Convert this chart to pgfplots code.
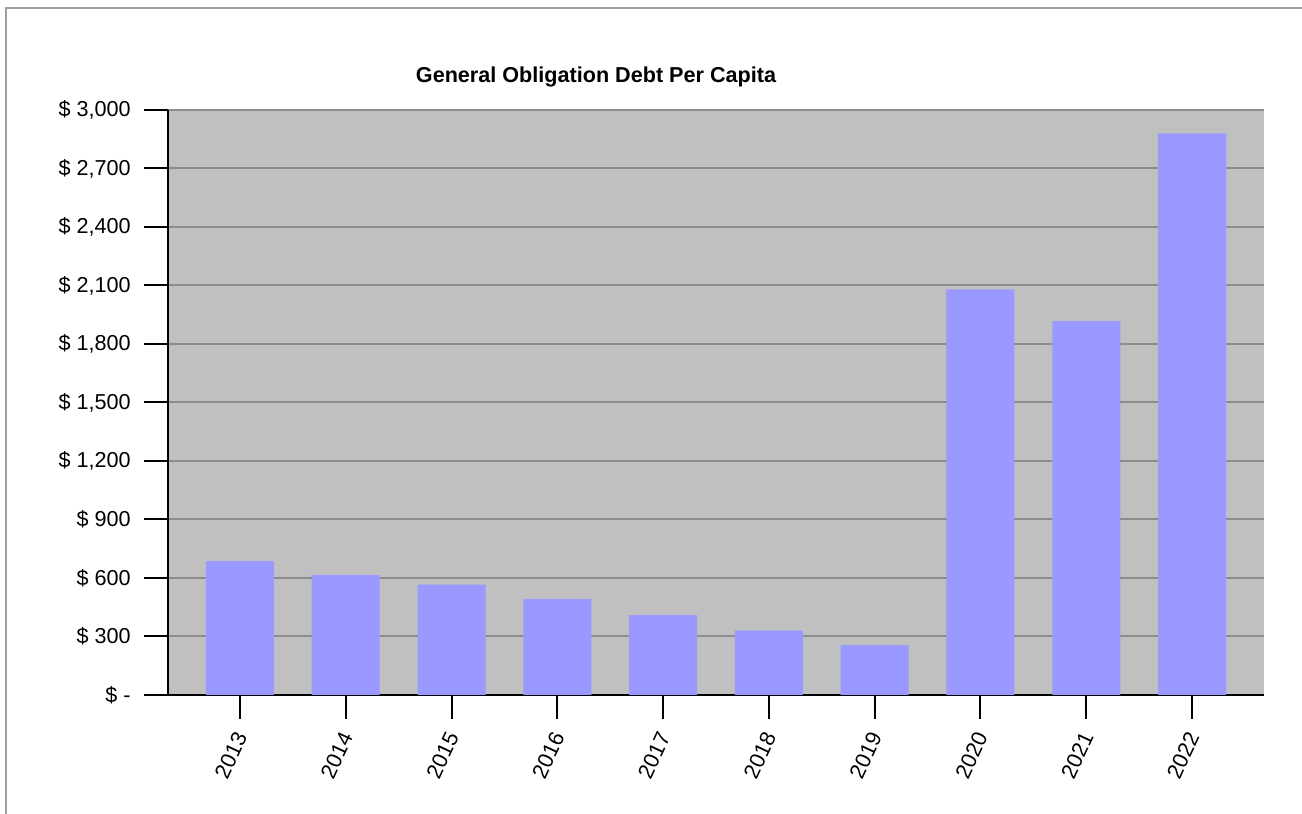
\documentclass[border=0pt]{standalone}
\usepackage{pgfplots}
\pgfplotsset{compat=1.18}
\usepackage{fontspec}
\setmainfont{Liberation Sans}
\definecolor{plotbg}{HTML}{C0C0C0}
\definecolor{barcol}{HTML}{9999FF}
\definecolor{gridcol}{HTML}{8C8C8C}
\definecolor{framecol}{HTML}{A0A0A0}
\begin{document}
\begin{tikzpicture}
\path[use as bounding box] (0,0) rectangle (651pt,407pt);
\draw[framecol, line width=0.6pt] (3pt,0) -- (3pt,403pt) -- (651pt,403pt);
\node[font=\fontsize{10.8pt}{12pt}\selectfont\bfseries, anchor=base] at (298pt,365.5pt) {General Obligation Debt Per Capita};
\begin{axis}[
  at={(84pt,59.5pt)}, anchor=south west,
  scale only axis,
  width=548pt, height=292.5pt,
  xmin=-0.68, xmax=9.68,
  ymin=0, ymax=3000,
  axis x line*=bottom, axis y line*=left,
  axis line style={black, line width=1pt, -},
  axis background/.style={fill=plotbg},
  ymajorgrids,
  major grid style={gridcol, line width=1pt},
  tick align=outside,
  major tick length=12pt,
  tick style={black, line width=1pt},
  xtick=data,
  xticklabels={2013,2014,2015,2016,2017,2018,2019,2020,2021,2022},
  ytick={0,300,600,900,1200,1500,1800,2100,2400,2700,3000},
  yticklabels={{\$ -},{\$ 300},{\$ 600},{\$ 900},{\$ 1,200},{\$ 1,500},{\$ 1,800},{\$ 2,100},{\$ 2,400},{\$ 2,700},{\$ 3,000}},
  tick label style={font=\fontsize{10.8pt}{12pt}\selectfont},
  yticklabel style={inner sep=0pt},
  yticklabel shift=6.5pt,
  xticklabel shift=8.5pt,
  xticklabel style={rotate=65, anchor=east, inner sep=0pt, xshift=1.5pt},
  ybar, bar width=34pt,
]
\addplot[fill=barcol, draw=none] coordinates {
  (0,687) (1,616) (2,566) (3,492) (4,410) (5,330) (6,256) (7,2080) (8,1917) (9,2880)
};
\end{axis}
\end{tikzpicture}
\end{document}
